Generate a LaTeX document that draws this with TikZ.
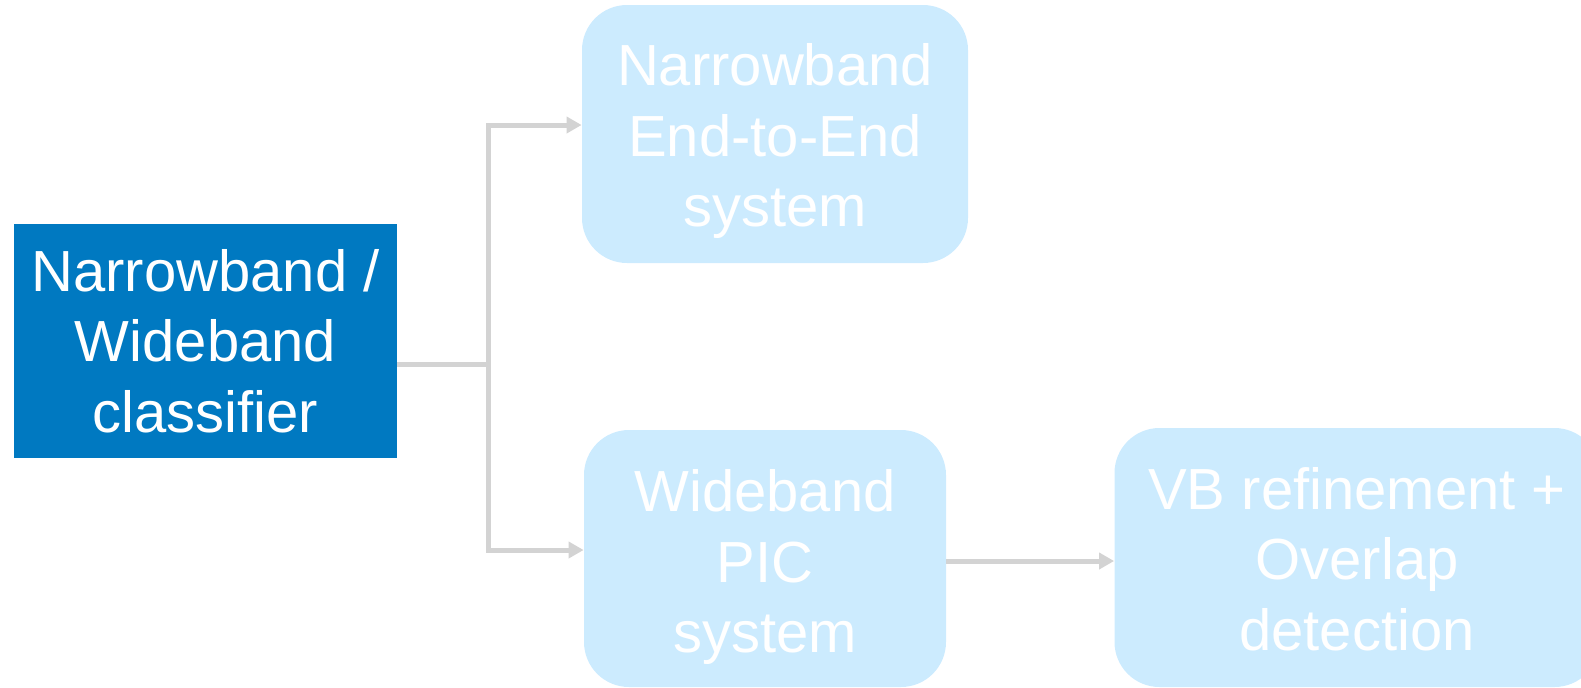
\documentclass[tikz,border=0pt]{standalone}
\usepackage{fontspec}
\setmainfont{Liberation Sans}
\usetikzlibrary{arrows.meta}
\definecolor{darkblue}{HTML}{0079C1}
\definecolor{lightblue}{HTML}{CCEBFE}
\definecolor{linegray}{HTML}{D3D3D3}
\begin{document}
\begin{tikzpicture}[x=0.5pt,y=-0.5pt,
  txt/.style={text=white, align=center, inner sep=0pt, font=\fontsize{29}{35.3}\selectfont},
  box/.style={rounded corners=22.5pt, fill=lightblue, inner sep=0pt},
  clsbox/.style={txt, fill=darkblue},
  conn/.style={draw=linegray, line width=2.5pt},
  arr/.style={conn, -{Triangle[length=7.5pt,width=8pt]}}]
\useasboundingbox (0,0) rectangle (1581,687);
\clip (0,0) rectangle (1581,687);
\node[clsbox, minimum width=191.5pt, minimum height=117pt] (c) at (205.5,341) {Narrowband /\\Wideband\\classifier};
\node[box, minimum width=193pt, minimum height=129pt] (n) at (775,134) {};
\node[txt] (nl) at (775,141) {Narrowband\\End-to-End\\system};
\node[box, minimum width=181pt, minimum height=128.5pt] (w) at (765,558.5) {};
\node[txt] (wl) at (765,567) {Wideband\\PIC\\system};
\node[box, minimum width=242.5pt, minimum height=129.5pt] (v) at (1357,557.5) {};
\node[txt] (vl) at (1357,559) {VB refinement +\\Overlap\\detection};
\coordinate (j) at (488,364);
\coordinate (nt) at (581,125);
\coordinate (wt) at (585,550);
\coordinate (bt) at (0,561);
\draw[conn] (c.east |- j) -- (j);
\draw[arr] (j) |- (n.west |- nt);
\draw[arr] (j) |- (w.west |- wt);
\draw[arr] (w.east |- bt) -- (v.west |- bt);
\end{tikzpicture}
\end{document}
